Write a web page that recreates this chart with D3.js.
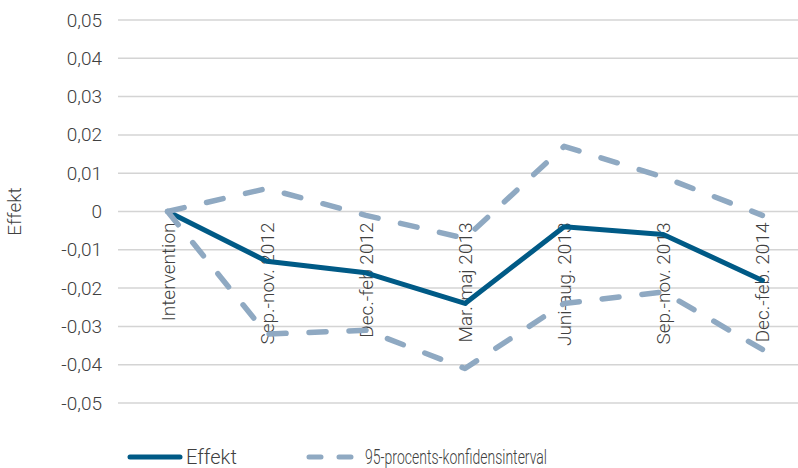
<!DOCTYPE html>
<html>
<head>
<meta charset="utf-8">
<script src="https://cdn.jsdelivr.net/npm/d3@7"></script>
<style>
  html, body { margin: 0; padding: 0; background: #fff; }
  svg { display: block; font-family: Roboto, "Noto Sans", sans-serif; font-weight: 300; }
</style>
</head>
<body>
<svg id="chart" width="798" height="468"></svg>
<script>
// Periods after the intervention
const categories = ["Intervention", "Sep.-nov. 2012", "Dec.-feb 2012", "Mar.-maj 2013",
                    "Juni-aug. 2013", "Sep.-nov. 2013", "Dec.-feb. 2014"];
// Estimated effect and 95% confidence bounds
const effekt = [0, -0.013, -0.016, -0.024, -0.004, -0.006, -0.018];
const ciUpper = [0, 0.006, -0.001, -0.007, 0.017, 0.009, -0.001];
const ciLower = [0, -0.032, -0.031, -0.041, -0.024, -0.021, -0.036];
const yTicks = [0.05, 0.04, 0.03, 0.02, 0.01, 0, -0.01, -0.02, -0.03, -0.04, -0.05];
const seriesNames = ["Effekt", "95-procents-konfidensinterval"];

const svg = d3.select("#chart");
const textColor = "#404040";
const blue = "#005a86";
const ciColor = "#8fa9c2";
const fontSize = "19px";

const plotLeft = 118, plotRight = 798, plotTop = 20, plotBottom = 403;

const x = d3.scalePoint().domain(categories).range([plotLeft, 812]).padding(0.5);
const y = d3.scaleLinear().domain([-0.05, 0.05]).range([plotBottom, plotTop]);

const locale = d3.formatLocale({ decimal: ",", thousands: ".", grouping: [3], currency: ["", " kr"], minus: "-" });
const fmt = locale.format(".2f");
const tickFmt = v => (Math.abs(v) < 1e-9 ? "0" : fmt(v));

// Horizontal gridlines
svg.append("g")
  .selectAll("line")
  .data(yTicks)
  .join("line")
  .attr("x1", plotLeft).attr("x2", plotRight)
  .attr("y1", d => y(d)).attr("y2", d => y(d))
  .attr("stroke", "#d4d4d4").attr("stroke-width", 1.5);

// Value axis labels
const yAxis = d3.axisLeft(y).tickValues(yTicks).tickFormat(tickFmt).tickSize(0).tickPadding(0);
const gy = svg.append("g").attr("transform", `translate(102,0)`).call(yAxis);
gy.select(".domain").remove();
gy.selectAll("text")
  .attr("fill", textColor)
  .style("font-size", fontSize)
  .style("font-family", "Roboto, sans-serif")
  .style("font-weight", 300);

// Axis title
svg.append("text")
  .attr("transform", `translate(21,${(plotTop + plotBottom) / 2}) rotate(-90)`)
  .attr("text-anchor", "middle")
  .attr("fill", textColor)
  .style("font-size", fontSize)
  .text("Effekt");

// Category labels, rotated and hung just below the zero line
svg.append("g")
  .selectAll("text")
  .data(categories)
  .join("text")
  .attr("transform", d => `translate(${x(d) + 7},${y(0) + 11}) rotate(-90)`)
  .attr("text-anchor", "end")
  .attr("fill", textColor)
  .style("font-size", fontSize)
  .text(d => d);

const line = d3.line()
  .x((d, i) => x(categories[i]))
  .y(d => y(d));

// Effect line
svg.append("path")
  .datum(effekt)
  .attr("d", line)
  .attr("fill", "none")
  .attr("stroke", blue)
  .attr("stroke-width", 5)
  .attr("stroke-linejoin", "round")
  .attr("stroke-linecap", "round");

// Confidence bounds
[ciUpper, ciLower].forEach(series => {
  svg.append("path")
    .datum(series)
    .attr("d", line)
    .attr("fill", "none")
    .attr("stroke", ciColor)
    .attr("stroke-width", 5.5)
    .attr("stroke-dasharray", "17,23")
    .attr("stroke-linejoin", "round")
    .attr("stroke-linecap", "round");
});

// Legend
const legendY = 457;
const legend = svg.append("g");
legend.append("line")
  .attr("x1", 130).attr("x2", 180).attr("y1", legendY).attr("y2", legendY)
  .attr("stroke", blue).attr("stroke-width", 5).attr("stroke-linecap", "round");
legend.append("text")
  .attr("x", 186).attr("y", legendY).attr("dy", "0.35em")
  .attr("fill", textColor).style("font-size", "20px")
  .text(seriesNames[0]);
legend.append("line")
  .attr("x1", 309).attr("x2", 353).attr("y1", legendY).attr("y2", legendY)
  .attr("stroke", ciColor).attr("stroke-width", 5).attr("stroke-linecap", "round")
  .attr("stroke-dasharray", "12,18");
legend.append("text")
  .attr("x", 365).attr("y", legendY).attr("dy", "0.35em")
  .attr("fill", textColor).style("font-size", "20px")
  .attr("textLength", 182).attr("lengthAdjust", "spacingAndGlyphs")
  .text(seriesNames[1]);
</script>
</body>
</html>
